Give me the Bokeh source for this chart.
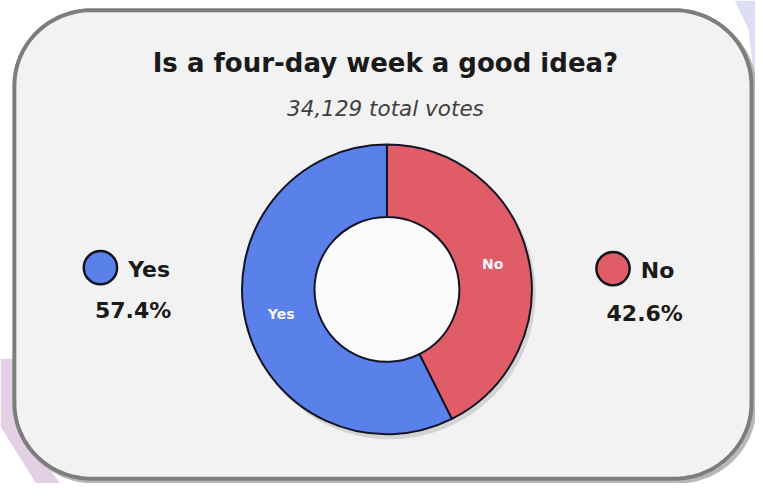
import math
import numpy as np
from bokeh.plotting import figure
from bokeh.models import Range1d, ColumnDataSource
from bokeh.core.properties import value
from bokeh.embed import file_html
from bokeh.resources import INLINE

# ---- data ----
title_text = "Is a four-day week a good idea?"
subtitle_text = "34,129 total votes"
labels = ["No", "Yes"]            # clockwise order from 12 o'clock
shares = [42.6, 57.4]
colors = ["#e05c66", "#5a80ea"]
legend_text = ["No", "Yes"]
pct_text = ["42.6%", "57.4%"]

W, H = 755, 483
REF_W, REF_H = 763, 499
SX, SY = W / REF_W, H / REF_H
S = (SX + SY) / 2
def X(px): return px * SX
def Y(py): return H - py * SY

p = figure(width=W, height=H, output_backend="svg", toolbar_location=None,
           x_range=Range1d(0, W), y_range=Range1d(0, H), min_border=0)
p.axis.visible = False
p.grid.visible = False
p.outline_line_color = None
p.background_fill_color = "white"
p.border_fill_color = "white"

# background decorations
p.patch([X(0), X(14), X(14), X(60), X(36), X(0)],
        [Y(370), Y(370), Y(430), Y(499), Y(499), Y(440)],
        fill_color="#dcc4de", line_color=None, fill_alpha=0.8)
p.patch([X(742), X(763), X(763), X(756)],
        [Y(0), Y(0), Y(90), Y(30)],
        fill_color="#d9d9f2", line_color=None, fill_alpha=0.9)

# rounded panel
def rrect(x0, y0, x1, y1, r, n=24):
    xs, ys = [], []
    corners = [(x1 - r, y0 + r, -90, 0), (x1 - r, y1 - r, 0, 90),
               (x0 + r, y1 - r, 90, 180), (x0 + r, y0 + r, 180, 270)]
    for cx, cy, a0, a1 in corners:
        for t in np.linspace(math.radians(a0), math.radians(a1), n):
            xs.append(X(cx + r * math.cos(t)))
            ys.append(Y(cy + r * math.sin(t)))
    return xs, ys

sx, sy = rrect(17, 13, 762, 497, 78)
p.patch(sx, sy, fill_color=None, line_color="#9a9a9a", line_width=4, line_alpha=0.7)
px_, py_ = rrect(14, 10, 759, 494, 78)
p.patch(px_, py_, fill_color="#f2f2f2", line_color="#7d7d7d", line_width=4)

# title / subtitle
p.text(x=[X(389)], y=[Y(65)], text=[title_text], text_align="center",
       text_baseline="middle", text_font=value("DejaVu Sans"),
       text_font_style="bold", text_font_size="26px", text_color="#1a1a1a")
p.text(x=[X(389)], y=[Y(112)], text=[subtitle_text], text_align="center",
       text_baseline="middle", text_font=value("DejaVu Sans"),
       text_font_style="italic", text_font_size="21.5px", text_color="#404040")

# donut
cx, cy = X(390.5), Y(298.5)
R_out, R_in = 148 * S, 74 * S
p.circle(x=[cx + 3], y=[cy - 4], radius=R_out + 1, radius_units="screen",
         fill_color="#000000", fill_alpha=0.12, line_color=None)
p.circle(x=[cx], y=[cy], radius=R_in, radius_units="screen",
         fill_color="#fbfbfb", line_color=None)

fr = np.array(shares) / sum(shares)
ends = math.pi / 2 - 2 * math.pi * np.cumsum(fr)
starts = np.concatenate([[math.pi / 2], ends[:-1]])
mids = (starts + ends) / 2
src = ColumnDataSource(dict(start=starts, end=ends, color=colors,
                            x=[cx] * len(labels), y=[cy] * len(labels)))
p.annular_wedge(x="x", y="y", inner_radius=R_in, outer_radius=R_out,
                inner_radius_units="screen", outer_radius_units="screen",
                start_angle="start", end_angle="end", direction="clock",
                fill_color="color", line_color="#141428", line_width=2, source=src)

rm = (R_in + R_out) / 2
p.text(x=list(cx + rm * np.cos(mids)), y=list(cy + rm * np.sin(mids)),
       text=labels, text_align="center", text_baseline="middle",
       text_font=value("DejaVu Sans"), text_font_style="bold",
       text_font_size="14px", text_color="#f4f4ff")

# legends (No right, Yes left)
leg_cx = [X(619), X(101)]
leg_cy = [Y(277), Y(276)]
p.circle(x=leg_cx, y=leg_cy, radius=17 * S, radius_units="screen",
         fill_color=colors, line_color="#141420", line_width=2.5)
p.text(x=[X(647), X(129)], y=[Y(279), Y(278)], text=legend_text,
       text_align="left", text_baseline="middle", text_font=value("DejaVu Sans"),
       text_font_style="bold", text_font_size="22px", text_color="#1a1a1a")
p.text(x=[X(651), X(134)], y=[Y(323), Y(320)], text=pct_text,
       text_align="center", text_baseline="middle", text_font=value("DejaVu Sans"),
       text_font_style="bold", text_font_size="22px", text_color="#1a1a1a")

open("out.html", "w").write(file_html(p, INLINE))
